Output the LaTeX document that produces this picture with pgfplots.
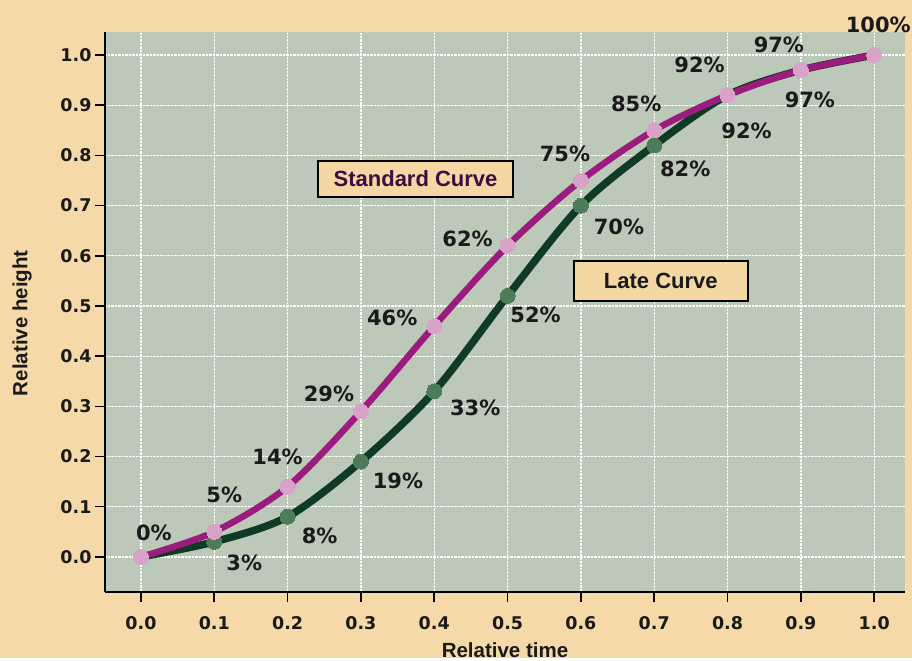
\documentclass[border=0pt]{standalone}
\usepackage{fontspec}
\setmainfont{Liberation Sans}
\newfontfamily\numfont{DejaVu Sans}
\usepackage{pgfplots}
\usepackage{pgfplotstable}
\pgfplotsset{compat=1.18}
\definecolor{pagebg}{HTML}{F6D9A8}
\definecolor{plotbg}{HTML}{BDC9B8}
\definecolor{boxbg}{HTML}{F5D7A4}
\definecolor{stdline}{HTML}{9B1B7F}
\definecolor{stdmark}{HTML}{D9A2C8}
\definecolor{lateline}{HTML}{0F3A24}
\definecolor{latemark}{HTML}{4E7C5B}
\definecolor{stdtext}{HTML}{3A0E40}
\definecolor{txt}{HTML}{1A1A1A}

\pgfplotstableread{
x y p dx dy
0.0 0.00 0 13 24
0.1 0.05 5 10 37
0.2 0.14 14 -10 30
0.3 0.29 29 -32 17
0.4 0.46 46 -42 8
0.5 0.62 62 -40 7
0.6 0.75 75 -16 27
0.7 0.85 85 -18 26
0.8 0.92 92 -28 30
0.9 0.97 97 -22 25
1.0 1.00 100 4 30
}\stdtab

\pgfplotstableread{
x y p dx dy
0.0 0.00 0 0 0
0.1 0.03 3 30 -21
0.2 0.08 8 32 -19
0.3 0.19 19 37 -19
0.4 0.33 33 41 -17
0.5 0.52 52 28 -19
0.6 0.70 70 38 -21
0.7 0.82 82 31 -23
0.8 0.92 92 19 -36
0.9 0.97 97 9 -30
1.0 1.00 100 0 0
}\latetab

\begin{document}
\begin{tikzpicture}
\fill[pagebg] (0,0) rectangle (912pt,658pt);
\begin{axis}[
  at={(105pt,66pt)}, anchor=south west,
  scale only axis, width=800pt, height=560pt,
  xmin=-0.049, xmax=1.042, ymin=-0.070, ymax=1.046,
  axis x line*=bottom, axis y line*=left,
  axis line style={line width=1.8pt, black, -},
  xtick={0,0.1,0.2,0.3,0.4,0.5,0.6,0.7,0.8,0.9,1.0},
  ytick={0,0.1,0.2,0.3,0.4,0.5,0.6,0.7,0.8,0.9,1.0},
  tick align=outside, major tick length=10pt,
  every tick/.style={black, line width=1.6pt},
  grid=major, major grid style={white, densely dotted, line width=1.3pt},
  axis background/.style={fill=plotbg},
  clip=false,
  ticklabel style={font=\numfont\bfseries\fontsize{17.5}{17.5}\selectfont, text=txt},
  xticklabel style={yshift=-11pt},
  /pgf/number format/fixed, /pgf/number format/fixed zerofill,
  /pgf/number format/precision=1, /pgf/number format/assume math mode=true,
  xlabel={Relative time}, ylabel={Relative height},
  label style={font=\bfseries\fontsize{20.5}{20.5}\selectfont, text=txt},
  xlabel style={at={(axis description cs:0.5,0)}, anchor=center, yshift=-58pt},
  ylabel style={at={(axis description cs:0,0.48)}, anchor=center, yshift=83pt},
]
% late curve
\addplot[lateline, line width=7.5pt, smooth, mark=*, mark size=7.5pt,
  mark options={fill=latemark, draw=latemark, line width=0pt}] table[x=x,y=y]{\latetab};
% standard curve
\addplot[stdline, line width=6.5pt, smooth, mark=*, mark size=7.5pt,
  mark options={fill=stdmark, draw=stdmark, line width=0pt}] table[x=x,y=y]{\stdtab};
% labels
\addplot[draw=none, mark=none, point meta=explicit,
  nodes near coords={\pgfmathprintnumber[fixed,precision=0,assume math mode=true]{\pgfplotspointmeta}\%},
  visualization depends on={\thisrow{dx}\as\dx},
  visualization depends on={\thisrow{dy}\as\dy},
  every node near coord/.append style={anchor=center, inner sep=0pt, xshift=\dx pt, yshift=\dy pt,
    font=\numfont\bfseries\fontsize{21}{21}\selectfont, text=txt}]
  table[x=x,y=y,meta=p]{\stdtab};
\addplot[draw=none, mark=none, point meta=explicit, restrict x to domain=0.05:0.95,
  nodes near coords={\pgfmathprintnumber[fixed,precision=0,assume math mode=true]{\pgfplotspointmeta}\%},
  visualization depends on={\thisrow{dx}\as\dx},
  visualization depends on={\thisrow{dy}\as\dy},
  every node near coord/.append style={anchor=center, inner sep=0pt, xshift=\dx pt, yshift=\dy pt,
    font=\numfont\bfseries\fontsize{21}{21}\selectfont, text=txt}]
  table[x=x,y=y,meta=p]{\latetab};
\node[draw=black, line width=2pt, fill=boxbg, minimum width=195pt, minimum height=36pt,
  inner sep=0pt, font=\bfseries\fontsize{22}{22}\selectfont, text=stdtext]
  at (axis cs:0.3745,0.753) {Standard Curve};
\node[draw=black, line width=2pt, fill=boxbg, minimum width=174pt, minimum height=40pt,
  inner sep=0pt, font=\bfseries\fontsize{22}{22}\selectfont, text=txt]
  at (axis cs:0.709,0.550) {Late Curve};
\end{axis}
\end{tikzpicture}
\end{document}
